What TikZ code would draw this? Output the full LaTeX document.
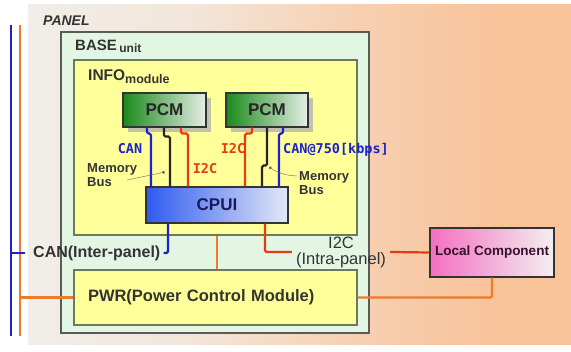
\documentclass[tikz,border=0pt]{standalone}
\usepackage{fontspec}
\setmainfont{Liberation Sans}
\newfontfamily\tagfont{DejaVu Sans Mono}
\usepackage{tikz}
\usetikzlibrary{arrows.meta,
                shadows}
\usetikzlibrary{calc}

\definecolor{panelL}{HTML}{F1EEE9}
\definecolor{panelR}{HTML}{F9C39A}
\definecolor{baseFill}{HTML}{E3F6E3}
\definecolor{baseEdge}{HTML}{5A5A5A}
\definecolor{infoFill}{HTML}{FFFF99}
\definecolor{infoEdge}{HTML}{6B7B5A}
\definecolor{pcmDark}{HTML}{1A8A1A}
\definecolor{pcmLight}{HTML}{E6EEE6}
\definecolor{cpuDark}{HTML}{2E5BF0}
\definecolor{cpuLight}{HTML}{E4E8F6}
\definecolor{locDark}{HTML}{F46FC2}
\definecolor{locLight}{HTML}{F2F0F0}
\definecolor{canC}{HTML}{1E22C8}
\definecolor{i2cC}{HTML}{E63A12}
\definecolor{pwrC}{HTML}{EE7A2A}
\definecolor{memC}{HTML}{262626}
\definecolor{txtC}{HTML}{333333}

% panel background: light on the left, peach on the right
\pgfdeclarehorizontalshading{panelShade}{100bp}{color(0bp)=(panelL); color(25bp)=(panelL);
    color(40bp)=(panelL!80!panelR); color(55bp)=(panelL!30!panelR); color(68bp)=(panelR);
    color(100bp)=(panelR)}

\begin{document}
\begin{tikzpicture}[x=1pt, y=-1pt,
    area/.style={draw=#1, line width=1.3pt, inner sep=0pt},
    unitbox/.style={draw=black!80, line width=1.2pt, inner sep=0pt,
        font=\bfseries\fontsize{17}{17}\selectfont},
    sig/.style={line width=2.2pt, rounded corners=1.5pt},
    bus/.style={line width=2.2pt},
    tag/.style={font=\tagfont\bfseries\fontsize{13.5}{14}\selectfont, inner sep=0pt},
    note/.style={font=\bfseries\fontsize{13}{14}\selectfont, text=txtC,
        align=left, inner sep=0pt, anchor=west},
    lbl/.style={text=txtC, inner sep=0pt, anchor=west}]
    \useasboundingbox (0,0) rectangle (571,352);

    % Panel background and the two panel buses
    \node[shading=panelShade, minimum width=543pt,
        minimum height=340pt, inner sep=0pt] (panel) at (299.5,175) {};
    \node[lbl, font=\bfseries\itshape\fontsize{14}{14}\selectfont] (panelLbl) at (43,21) {PANEL};
    \coordinate (canTop) at (11,25);
    \coordinate (canEnd) at (11,336);
    \coordinate (pwrTop) at (20,25);
    \coordinate (pwrEnd) at (20,336);
    \draw[bus, canC] (canTop) -- (canEnd);
    \draw[bus, pwrC] (pwrTop) -- (pwrEnd);

    % BASE unit with INFO module and PWR
    \node[area=baseEdge, fill=baseFill, minimum width=308pt, minimum height=301pt] (base) at (215,182.5) {};
    \node[lbl, font=\bfseries\fontsize{15}{15}\selectfont] (baseLbl) at (75,46)
        {BASE\,\raisebox{-2pt}{\fontsize{12}{12}\selectfont unit}};
    \node[area=infoEdge, fill=infoFill, minimum width=283pt, minimum height=175pt] (info) at (215.5,147.5) {};
    \node[lbl, font=\bfseries\fontsize{15.5}{15.5}\selectfont] (infoLbl) at (88,77)
        {INFO\raisebox{-3pt}{\fontsize{12.5}{12.5}\selectfont module}};
    \node[area=infoEdge, fill=infoFill, minimum width=283pt, minimum height=55pt,
        text width=255pt, align=left,
        font=\bfseries\fontsize{16.5}{16.5}\selectfont, text=txtC] (pwr) at (215.5,297.5)
        {PWR(Power Control Module)};

    % PCMs and CPU
    \node[unitbox, left color=pcmDark, right color=pcmLight, minimum width=83pt, minimum height=34pt,
        drop shadow={shadow xshift=5pt, shadow yshift=-5pt, fill=black!30, opacity=0.8},
        text=black!85] (pcmA) at (164.5,110) {PCM};
    \node[unitbox, left color=pcmDark, right color=pcmLight, minimum width=82pt, minimum height=34pt,
        drop shadow={shadow xshift=5pt, shadow yshift=-5pt, fill=black!30, opacity=0.8},
        text=black!85] (pcmB) at (267,110) {PCM};
    \node[unitbox, left color=cpuDark, right color=cpuLight, minimum width=142pt, minimum height=36pt,
        text={rgb,255:red,26;green,26;blue,90}] (cpu) at (217,205) {CPUI};

    % Local component outside the base unit
    \node[unitbox, left color=locDark, right color=locLight, minimum width=124pt, minimum height=49pt,
        font=\bfseries\fontsize{13.5}{13.5}\selectfont, text={rgb,255:red,58;green,16;blue,48}]
        (local) at (492,252.5) {Local Component};

    % Buses between PCMs and CPU
    \draw[sig, canC] (pcmA.south -| 147,0) -- ++(0,6) -- ++(4,0) -- (cpu.north -| 151,0);
    \draw[sig, memC] (pcmA.south -| 164,0) -- ++(0,9) -- ++(6,0) -- (cpu.north -| 170,0);
    \draw[sig, i2cC] (pcmA.south -| 181,0) -- ++(0,6) -- ++(7,0) -- (cpu.north -| 188,0);
    \draw[sig, i2cC] (pcmB.south -| 252,0) -- ++(0,6) -- ++(-7,0) -- (cpu.north -| 245,0);
    \draw[sig, memC] (pcmB.south -| 267,0) -- ++(0,38) -- ++(-5,0) -- (cpu.north -| 262,0);
    \draw[sig, canC] (pcmB.south -| 283,0) -- ++(0,6) -- ++(-4,0) -- (cpu.north -| 279,0);

    % Bus names
    \node[tag, text=canC] (canA) at (130,149) {CAN};
    \node[tag, text=i2cC] (i2cA) at (205,169) {I2C};
    \node[tag, text=i2cC] (i2cB) at (233,149) {I2C};
    \node[tag, text=canC, anchor=west] (canB) at (283,150) {CAN@750[kbps]};

    % Memory bus notes
    \coordinate (tapA) at (165,172);
    \coordinate (tapB) at (269,167);
    \node[note] (memA) at (87,175) {Memory\\Bus};
    \node[note] (memB) at (299,183) {Memory\\Bus};
    \draw[thin, black!60, -{Circle[length=3pt]}] ([xshift=-10pt,yshift=-5pt]memA.east) -- (tapA);
    \draw[thin, black!60, -{Circle[length=3pt]}] ([xshift=-2pt,yshift=7pt]memB.west) to[bend left=15] (tapB);

    % CAN between panels
    \node[lbl, font=\bfseries\fontsize{16}{16}\selectfont, inner sep=3pt] (canLbl) at (30,253) {CAN(Inter-panel)};
    \draw[sig, canC] (cpu.south -| 168,0) |- (canLbl.east);
    \draw[sig, canC] (canTop |- canLbl.west) -- ([xshift=-5pt]canLbl.west);

    % I2C inside the panel
    \node[text=txtC, align=center, inner sep=4pt, font=\fontsize{16.5}{16}\selectfont] (i2cLbl) at (341,252) {I2C\\(Intra-panel)};
    \draw[sig, i2cC] (cpu.south -| 265,0) |- (i2cLbl.west);
    \draw[sig, i2cC] (i2cLbl.east) -- (local.west);

    % Power lines
    \draw[sig, pwrC] (info.south -| 217,0) -- (pwr.north -| 217,0);
    \draw[sig, pwrC] (pwr.east) -| (local.south);
    \draw[sig, pwrC] (pwrTop |- pwr.west) -- (pwr.west);
\end{tikzpicture}
\end{document}
